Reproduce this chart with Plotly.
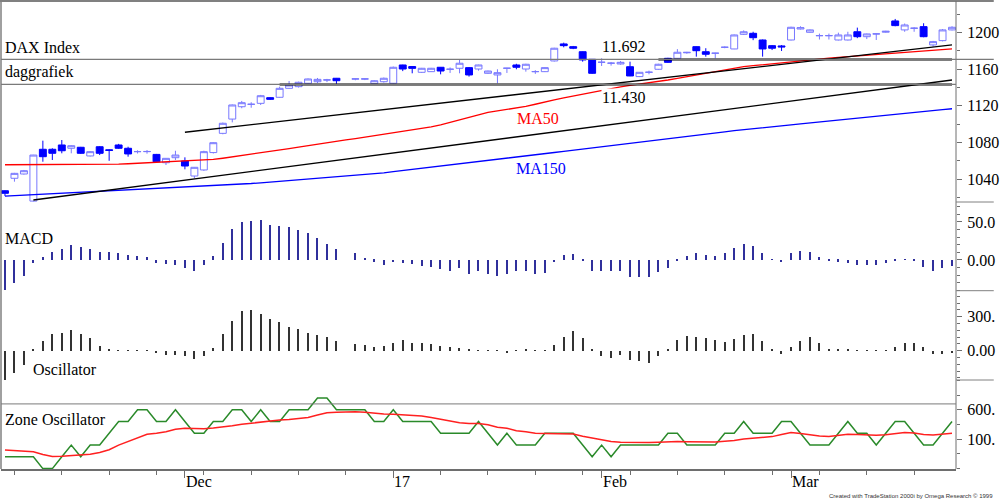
import plotly.graph_objects as go

# ------------------------------------------------------------------ data
# one slot per weekday, 2016-11-04 .. 2017-03-24 (slot 36 = 26 Dec, no trading)
bar_idx = list(range(101))
month_tick_bars = [19, 41, 63, 83]
month_tick_labels = ["Dec", "17", "Feb", "Mar"]

open_p = [1027.3,1040.9,1045.6,1016.0,1072.6,1072.6,1077.3,1073.7,1074.8,1065.3,
          1075.4,1072.0,1077.3,1073.7,1070.0,1070.0,1067.0,1057.9,1063.4,1059.8,
          1043.4,1050.0,1069.0,1090.0,1105.6,1119.1,1121.7,1122.8,1129.0,1129.4,
          1139.2,1141.0,1144.7,1146.4,1148.3,1150.2,None,1149.2,1149.2,1144.3,
          1146.4,1144.7,1164.7,1163.0,1156.7,1157.4,1162.2,1160.0,1161.1,1161.8,
          1160.3,1155.6,1153.8,1161.1,1164.7,1160.3,1157.4,1157.4,1169.1,1187.7,
          1184.7,1179.2,1170.9,1167.6,1166.6,1165.8,1162.8,1152.0,1156.7,1160.0,
          1172.0,1172.0,1178.0,1184.7,1179.2,1177.5,1184.0,1182.2,1198.2,1199.3,
          1192.0,1185.8,1185.5,1192.0,1204.0,1200.4,1196.7,1196.7,1192.0,1192.0,
          1201.0,1195.6,1198.6,1200.5,1212.8,1203.0,1204.8,1206.6,1186.6,1191.3,
          1203.0]
high_p = [1027.8,1046.8,1050.0,1066.5,1082.0,1073.7,1082.7,1077.0,1075.2,1070.5,
          1076.0,1072.5,1078.5,1075.4,1071.5,1071.8,1067.5,1063.0,1071.0,1063.8,
          1053.2,1071.0,1080.2,1101.8,1121.5,1125.4,1124.0,1132.0,1129.5,1141.0,
          1147.2,1146.5,1150.0,1150.5,1149.5,1150.5,None,1150.0,1150.0,1148.0,
          1151.0,1163.0,1165.0,1163.5,1161.5,1161.5,1162.5,1162.0,1170.2,1162.5,
          1165.0,1158.5,1160.0,1161.5,1166.0,1166.0,1159.0,1162.0,1183.5,1189.1,
          1185.5,1179.5,1171.0,1172.0,1168.0,1169.0,1168.3,1157.0,1158.5,1166.0,
          1172.5,1182.0,1179.0,1185.0,1183.0,1178.0,1185.0,1198.0,1202.5,1201.0,
          1192.5,1186.5,1186.5,1206.5,1207.0,1203.5,1199.0,1199.0,1200.0,1201.0,
          1205.5,1199.0,1199.2,1202.0,1215.0,1210.0,1206.0,1210.3,1191.0,1204.0,
          1207.0]
low_p = [1021.5,1037.2,1045.0,1015.5,1059.0,1060.9,1068.2,1068.2,1067.5,1064.8,
         1066.3,1060.0,1073.0,1064.5,1068.0,1067.8,1058.0,1055.4,1060.9,1050.7,
         1040.9,1049.0,1068.0,1089.0,1102.0,1117.4,1118.0,1121.0,1126.5,1129.0,
         1139.0,1140.0,1144.0,1145.0,1146.0,1143.6,None,1148.0,1148.2,1144.0,
         1145.5,1144.0,1158.0,1155.6,1156.0,1157.0,1154.5,1156.0,1155.6,1152.0,
         1158.5,1155.0,1144.7,1156.0,1160.0,1157.4,1155.0,1157.0,1168.5,1184.0,
         1182.0,1168.3,1155.0,1163.6,1164.0,1165.0,1152.5,1151.5,1154.5,1159.5,
         1167.0,1171.5,1177.0,1173.8,1173.8,1172.0,1183.0,1182.0,1197.5,1191.8,
         1173.8,1181.0,1180.0,1191.5,1203.5,1200.0,1192.5,1192.5,1191.5,1191.5,
         1194.0,1193.0,1192.0,1200.0,1207.0,1201.0,1201.0,1195.0,1184.7,1190.5,
         1202.5]
close_p = [1024.5,1046.3,1049.2,1066.3,1064.5,1068.2,1071.0,1076.5,1068.2,1070.0,
           1068.2,1071.4,1073.7,1067.5,1070.1,1070.2,1059.0,1062.7,1066.3,1054.3,
           1052.9,1070.0,1079.8,1101.0,1121.0,1123.5,1121.8,1131.1,1127.2,1139.2,
           1142.8,1145.8,1149.4,1149.0,1148.4,1147.5,None,1149.6,1149.6,1147.5,
           1150.2,1162.2,1160.3,1161.0,1161.1,1161.1,1158.1,1160.1,1166.6,1153.8,
           1164.7,1158.1,1156.3,1161.2,1162.2,1165.5,1157.5,1161.8,1183.0,1185.8,
           1183.0,1170.2,1155.6,1167.7,1166.7,1167.6,1152.7,1156.7,1156.8,1165.5,
           1167.6,1178.6,1178.5,1180.3,1176.4,1177.6,1184.1,1197.5,1201.0,1194.5,
           1182.2,1183.0,1184.5,1205.9,1205.5,1203.0,1196.8,1196.8,1197.5,1197.5,
           1195.6,1198.6,1198.7,1201.5,1207.7,1208.4,1204.9,1195.6,1190.2,1203.0,
           1205.9]

ma50 = [1055.7,1055.7,1055.7,1055.8,1055.8,1055.8,1055.9,1055.9,1056.0,1056.0,
        1056.1,1056.2,1056.4,1056.8,1057.3,1058.0,1058.6,1059.2,1059.8,1060.3,
        1060.7,1060.9,1061.5,1062.8,1064.2,1065.6,1067.0,1068.6,1070.1,1071.8,
        1073.4,1075.0,1076.7,1078.3,1079.9,1081.4,1082.8,1084.3,1085.8,1087.5,
        1089.2,1090.7,1092.1,1093.3,1095.0,1097.0,1099.3,1101.8,1104.5,1107.3,
        1110.1,1112.8,1114.5,1116.0,1117.4,1119.5,1121.8,1124.6,1126.7,1128.8,
        1130.8,1132.9,1134.8,1136.6,1139.2,1140.8,1142.3,1143.6,1145.0,1146.4,
        1148.3,1150.1,1152.0,1154.0,1155.8,1157.5,1159.2,1161.0,1162.8,1163.9,
        1165.0,1166.0,1167.1,1168.2,1169.2,1170.2,1171.1,1172.1,1172.9,1173.7,
        1174.5,1175.3,1176.1,1176.9,1177.6,1178.5,1179.3,1180.1,1180.8,1181.5,
        1182.2]
ma150 = [1021.5,1022.0,1022.6,1023.1,1023.6,1024.1,1024.7,1025.2,1025.7,1026.2,
         1026.8,1027.3,1027.8,1028.4,1028.9,1029.4,1029.9,1030.5,1031.0,1031.5,
         1032.0,1032.6,1033.1,1033.6,1034.1,1034.7,1035.2,1036.0,1036.8,1037.7,
         1038.5,1039.3,1040.1,1040.9,1041.8,1042.6,1043.4,1044.2,1045.0,1045.9,
         1046.9,1048.1,1049.3,1050.6,1051.8,1053.0,1054.2,1055.5,1056.7,1057.9,
         1059.1,1060.4,1061.6,1062.9,1064.1,1065.4,1066.6,1067.9,1069.1,1070.4,
         1071.6,1072.9,1074.1,1075.4,1076.6,1077.9,1079.1,1080.4,1081.6,1082.9,
         1084.1,1085.4,1086.6,1087.9,1089.1,1090.4,1091.6,1092.9,1094.1,1095.1,
         1096.2,1097.2,1098.3,1099.3,1100.3,1101.4,1102.4,1103.5,1104.5,1105.5,
         1106.6,1107.6,1108.7,1109.7,1110.7,1111.8,1112.8,1113.9,1114.9,1115.9,
         1116.9]

macd = [-40,-30,-21,-4,4,11,15,20,17,15,
        11,10,9,7,5,4,-4,-5,-6,-11,
        -14,-7,5,22,41,50,51,52,46,45,
        43,39,35,29,21,14,None,9,2,-2,
        -7,-3,-4,-5,-8,-9,-12,-14,-11,-18,
        -15,-18,-21,-18,-15,-14,-18,-17,-3,7,
        8,-1,-14,-15,-15,-15,-23,-23,-23,-16,
        -10,-1,5,9,7,5,9,16,21,19,
        9,1,-3,9,12,11,4,-1,-2,-4,
        -6,-6,-6,-4,-1,0.5,-1,-9,-14,-11,
        -8]
osc = [-259,-194,-120,20,85,153,162,182,147,115,
       44,15,6,3,3,6,-18,-32,-38,-47,
       -68,-44,26,147,265,353,365,329,285,256,
       212,197,162,138,124,88,None,59,50,35,
       41,71,94,74,71,59,44,35,29,15,
       6,6,3,-9,3,20,6,6,56,124,
       174,118,20,-47,-59,-38,-76,-88,-106,-44,
       20,94,129,124,118,100,79,109,144,153,
       85,12,-24,35,85,124,71,20,20,12,
       6,3,6,3,35,71,74,35,-29,-24,
       -9]
zone = [-200,-200,-200,-200,-400,-400,-200,0,-200,0,
        0,200,400,400,600,600,400,400,600,400,
        200,200,400,400,600,600,400,600,400,400,
        600,600,600,800,800,600,600,600,600,400,
        400,600,400,400,400,400,200,200,200,200,
        400,200,0,200,0,0,0,200,200,200,
        200,0,-200,0,-200,0,0,0,0,0,
        200,200,0,0,0,0,200,200,400,200,
        200,200,400,400,200,0,0,0,200,400,
        200,200,0,200,400,400,200,0,0,200,
        400]
zone_avg = [-85,-95,-100,-115,-160,-194,-190,-175,-165,-155,
            -126,-80,0,60,125,183,200,228,270,285,
            282,279,290,305,330,355,375,395,414,425,
            437,450,470,510,549,560,565,566,560,540,
            527,524,518,505,495,470,440,410,380,369,
            365,345,302,285,245,225,200,198,195,192,
            189,150,116,90,60,50,45,43,45,50,
            58,60,58,56,55,54,65,76,105,120,
            130,144,180,212,195,170,155,144,160,183,
            178,170,166,175,195,215,205,180,170,180,
            200]

trend_start_bar = [3, 19]
trend_start_val = [1017.2, 1091.2]
trend_end_bar = [100, 100]
trend_end_val = [1148.3, 1186.6]
hline_levels = [1170.8, 1143.5]
hline_labels = ["11.692", "11.430"]
hline_bold_from = [69, 29]
zone_ref_level = 700

price_ticks = [1040, 1080, 1120, 1160, 1200]
macd_ticks, macd_ticktext = [0, 50], ["0.00", "50.0"]
osc_ticks, osc_ticktext = [0, 300], ["0.00", "300."]
zone_ticks, zone_ticktext = [100, 600], ["100.", "600."]

# ------------------------------------------------------------------ layout helpers
W, H = 1000, 500
ML, MR, MT, MB = 1, 38, 1, 31
PW, PH = W - ML - MR, H - MT - MB


def px_x(px):
    return (px - ML) / PW


def px_y(py):
    return (H - MB - py) / PH


price_dom = [px_y(202), 1.0]
macd_dom = [px_y(290.7), px_y(202)]
osc_dom = [px_y(380), px_y(290.7)]
zone_dom = [0.0, px_y(380)]

price_rng = [1015.0, 1234.6]
macd_rng = [-40.4, 76.3]
osc_rng = [-258.6, 529.5]
zone_rng = [-406.8, 1106.8]
x_rng = [-0.42, 100.42]


def to_paper(v, rng, dom):
    return dom[0] + (v - rng[0]) / (rng[1] - rng[0]) * (dom[1] - dom[0])


SERIF = "Liberation Serif"
GRAY = "#808080"

fig = go.Figure()

# candles (skip the empty holiday slot)
keep = [i for i in bar_idx if open_p[i] is not None]
fig.add_trace(go.Candlestick(
    x=[bar_idx[i] for i in keep],
    open=[open_p[i] for i in keep], high=[high_p[i] for i in keep],
    low=[low_p[i] for i in keep], close=[close_p[i] for i in keep],
    increasing=dict(line=dict(color="#7878ff", width=1), fillcolor="white"),
    decreasing=dict(line=dict(color="#0000ff", width=1), fillcolor="#0000ff"),
    whiskerwidth=0, xaxis="x", yaxis="y", hoverinfo="skip"))

# moving averages
fig.add_trace(go.Scatter(x=bar_idx, y=ma50, mode="lines",
                         line=dict(color="#ff0000", width=1.3), xaxis="x", yaxis="y"))
fig.add_trace(go.Scatter(x=bar_idx, y=ma150, mode="lines",
                         line=dict(color="#0000ff", width=1.3), xaxis="x", yaxis="y"))

# trend lines
for xs, ys, xe, ye in zip(trend_start_bar, trend_start_val, trend_end_bar, trend_end_val):
    fig.add_trace(go.Scatter(x=[xs, xe], y=[ys, ye], mode="lines",
                             line=dict(color="#000000", width=1.3), xaxis="x", yaxis="y"))

# bold parts of the horizontal levels
for lvl, start in zip(hline_levels, hline_bold_from):
    fig.add_trace(go.Scatter(x=[start, bar_idx[-1]], y=[lvl, lvl], mode="lines",
                             line=dict(color="#000000", width=2), xaxis="x", yaxis="y"))

# MACD histogram
fig.add_trace(go.Bar(x=bar_idx, y=macd, width=0.14, marker=dict(color="#30309c", line=dict(width=0)),
                     xaxis="x", yaxis="y2"))
# Oscillator histogram
fig.add_trace(go.Bar(x=bar_idx, y=osc, width=0.14, marker=dict(color="#333333", line=dict(width=0)),
                     xaxis="x", yaxis="y3"))

# Zone oscillator
fig.add_trace(go.Scatter(x=bar_idx, y=zone, mode="lines",
                         line=dict(color="#2a8a2a", width=1.5), xaxis="x", yaxis="y4"))
fig.add_trace(go.Scatter(x=bar_idx, y=zone_avg, mode="lines",
                         line=dict(color="#ff2020", width=1.5), xaxis="x", yaxis="y4"))

shapes = []
# frame
shapes.append(dict(type="line", xref="paper", yref="paper", x0=px_x(0), x1=px_x(1000), y0=1, y1=1,
                   line=dict(color=GRAY, width=2)))
shapes.append(dict(type="line", xref="paper", yref="paper", x0=0, x1=0, y0=0, y1=1,
                   line=dict(color=GRAY, width=1.5)))
shapes.append(dict(type="line", xref="paper", yref="paper", x0=1, x1=1, y0=0, y1=1,
                   line=dict(color="#6e6e6e", width=1)))
for d in (price_dom[0], macd_dom[0], osc_dom[0]):
    shapes.append(dict(type="line", xref="paper", yref="paper", x0=1, x1=px_x(1000), y0=d, y1=d,
                       line=dict(color=GRAY, width=1)))
# thin full-width horizontal levels
for k, lvl in enumerate(hline_levels):
    yy = to_paper(lvl, price_rng, price_dom)
    shapes.append(dict(type="line", xref="paper", yref="paper", x0=0,
                       x1=px_x(1000) if k == 0 else 1, y0=yy, y1=yy,
                       line=dict(color="#7a7a7a", width=1.2)))
# zone reference level
yz = to_paper(zone_ref_level, zone_rng, zone_dom)
shapes.append(dict(type="line", xref="paper", yref="paper", x0=0, x1=1, y0=yz, y1=yz,
                   line=dict(color="#7a7a7a", width=1)))

ann = []


def label(text, px, py, color="#000000", size=16, bg=None):
    d = dict(text=text, xref="paper", yref="paper", x=px_x(px), y=px_y(py),
             xanchor="left", yanchor="middle", showarrow=False,
             font=dict(family=SERIF, size=size, color=color), borderpad=0)
    if bg:
        d["bgcolor"] = bg
    ann.append(d)


label("DAX Index", 4, 47.5)
label("daggrafiek", 4, 72)
label(hline_labels[0], 605, 46.5)
label(hline_labels[1], 605, 97.5, bg="white")
label("MA50", 519, 118, color="#ff0000")
label("MA150", 518, 168.5, color="#0000ff")
label("MACD", 4, 238.5)
label("Oscillator", 32, 369)
label("Zone Oscillator", 4, 419.5)

for b, t in zip(month_tick_bars, month_tick_labels):
    ann.append(dict(text=t, xref="x", yref="paper", x=b, y=px_y(482), xanchor="left",
                    yanchor="middle", showarrow=False, borderpad=0,
                    font=dict(family=SERIF, size=16, color="#000000")))

ann.append(dict(text="Created with TradeStation 2000i by Omega Research \u00a9 1999",
                xref="paper", yref="paper", x=px_x(1000), y=px_y(495.5), xanchor="right",
                yanchor="middle", showarrow=False, borderpad=0,
                font=dict(family="Liberation Sans", size=6, color="#333333")))


def yax(dom, rng, tickvals, ticktext, minor_t0, minor_dt):
    return dict(domain=dom, range=rng, side="right", anchor="x", showgrid=False, zeroline=False,
                showline=False, ticks="outside", ticklen=5, tickwidth=1, tickcolor="#6e6e6e",
                tickvals=tickvals, ticktext=ticktext, ticklabelstandoff=2,
                tickfont=dict(family=SERIF, size=16, color="#000000"),
                minor=dict(ticks="outside", ticklen=3, tick0=minor_t0, dtick=minor_dt,
                           tickcolor="#6e6e6e", showgrid=False),
                fixedrange=True)


fig.update_layout(
    width=W, height=H, margin=dict(l=ML, r=MR, t=MT, b=MB),
    paper_bgcolor="white", plot_bgcolor="white", showlegend=False,
    bargap=0, boxgap=0.27, boxgroupgap=0, shapes=shapes, annotations=ann,
    xaxis=dict(domain=[0, 1], range=x_rng, anchor="y4", showgrid=False, zeroline=False,
               showline=True, linecolor="#6e6e6e", linewidth=1.5,
               ticks="outside", ticklen=7, tickcolor="#6e6e6e", tickvals=month_tick_bars,
               showticklabels=False, rangeslider=dict(visible=False),
               minor=dict(ticks="outside", ticklen=4, tick0=1, dtick=5, tickcolor="#6e6e6e",
                          showgrid=False)),
    yaxis=yax(price_dom, price_rng, price_ticks, [str(v) for v in price_ticks], 1020, 20),
    yaxis2=yax(macd_dom, macd_rng, macd_ticks, macd_ticktext, 0, 10),
    yaxis3=yax(osc_dom, osc_rng, osc_ticks, osc_ticktext, 0, 60),
    yaxis4=yax(zone_dom, zone_rng, zone_ticks, zone_ticktext, 100, 250),
)

fig.write_html("out.html")
